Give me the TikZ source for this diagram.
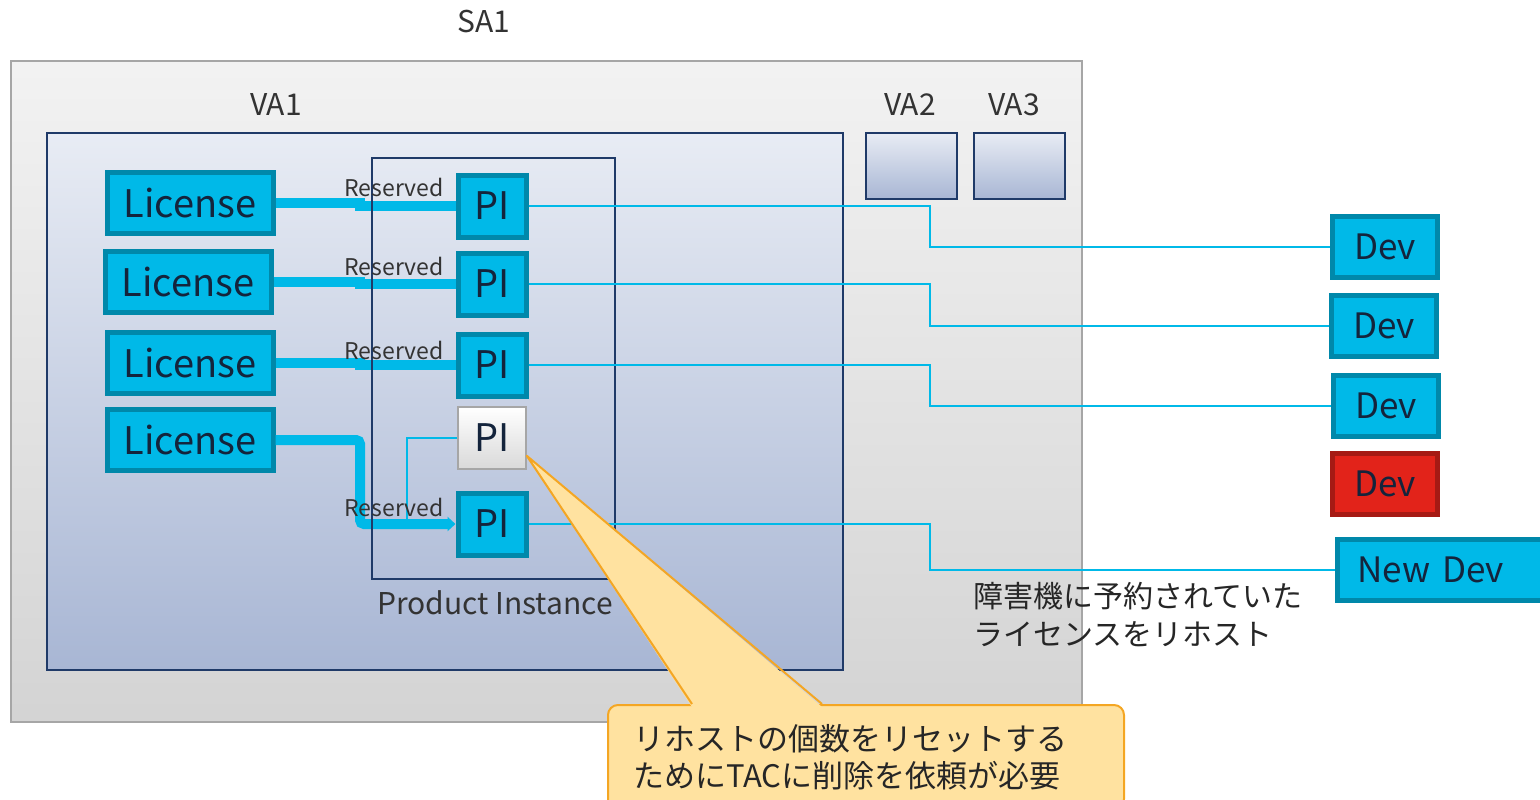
\documentclass[tikz,border=0pt]{standalone}
\usepackage{fontspec}
\setmainfont{Noto Sans CJK JP}
\usetikzlibrary{positioning,arrows.meta}

\definecolor{licblue}{HTML}{00B9E8}
\definecolor{licedge}{HTML}{0088AA}
\definecolor{navy}{HTML}{1F3A68}
\definecolor{inktext}{HTML}{14243C}
\definecolor{labeltext}{HTML}{333333}
\definecolor{vatop}{HTML}{E8ECF4}
\definecolor{vabottom}{HTML}{A8B6D4}
\definecolor{devred}{HTML}{E2231A}
\definecolor{devrededge}{HTML}{A61A14}
\definecolor{notefill}{HTML}{FFE2A0}
\definecolor{noteedge}{HTML}{F4A623}

\newcommand{\fsz}[1]{\fontsize{#1}{#1}\selectfont}

\tikzset{
  box/.style={draw=licedge, fill=licblue, line width=5pt, inner sep=0pt, text=inktext},
  lic/.style={box, minimum width=166pt, minimum height=61pt, font=\fsz{38}},
  pinst/.style={box, minimum width=68pt, minimum height=62pt, font=\fsz{38}},
  dev/.style={box, minimum width=105pt, minimum height=61pt, font=\fsz{35}},
  resv/.style={inner sep=0pt, text=labeltext, font=\fsz{23}},
  lbl/.style={inner sep=0pt, text=labeltext, font=\fsz{30}},
  hold/.style={draw=licblue, line width=10pt},
  wire/.style={draw=licblue, line width=2pt},
  vabox/.style={draw=navy, line width=2pt, top color=vatop, bottom color=vabottom},
}

\begin{document}
\begin{tikzpicture}[x=1pt, y=-1pt]
  \useasboundingbox (0,0) rectangle (1540,800);

  % account boxes
  \draw [draw=black!35, line width=2pt, top color=black!5, bottom color=black!17] (11,61) rectangle (1082,722);
  \node [lbl] at (484,22) {SA1};

  \draw [vabox] (47,133) rectangle (843,670);
  \draw [vabox] (866,133) rectangle (957,199);
  \draw [vabox] (974,133) rectangle (1065,199);
  \node [lbl] at (276,105) {VA1};
  \node [lbl] at (910,105) {VA2};
  \node [lbl] at (1014,105) {VA3};

  % licenses and product instances
  \node [lic] (lic1) at (190,203) {License};
  \node [lic] (lic2) at (188,282) {License};
  \node [lic] (lic3) at (190,363) {License};
  \node [lic] (lic4) at (190,440) {License};

  \node [pinst] (pi1) at (492,206) {PI};
  \node [pinst] (pi2) at (492,284) {PI};
  \node [pinst] (pi3) at (492,365) {PI};
  \node [pinst, draw=black!35, line width=1.5pt, top color=white, bottom color=black!15] (pi4) at (492,438) {PI};
  \node [pinst] (pi5) at (492,524) {PI};

  % devices
  \node [dev] (dev1) at (1385,247) {Dev};
  \node [dev] (dev2) at (1384,326) {Dev};
  \node [dev] (dev3) at (1386,406) {Dev};
  \node [dev, fill=devred, draw=devrededge] (dev4) at (1385,484) {Dev};
  \node [dev, anchor=west, text width=185pt, inner xsep=20pt, align=left] (newdev) at (1335,570) {New Dev};

  \coordinate (jog) at (360,0);
  \coordinate (bend) at (930,0);
  \coordinate (tap) at (407,519);

  % reservations
  \draw [hold] (lic1.east) -- (lic1.east -| jog) |- (pi1.west);
  \draw [hold] (lic2.east) -- (lic2.east -| jog) |- (pi2.west);
  \draw [hold] (lic3.east) -- (lic3.east -| jog) |- (pi3.west);
  \draw [hold, rounded corners=4pt, -{Triangle[length=8pt, width=14pt]}] (lic4.east) -- (lic4.east -| jog) |- (pi5.west);
  \draw [wire] (pi4.west) -| (tap);

  \draw [navy, line width=2pt] (372,158) rectangle (615,579);
  \node [lbl] at (495,603) {Product Instance};

  \node [resv] at (394,187) {Reserved};
  \node [resv] at (394,266) {Reserved};
  \node [resv] at (394,350) {Reserved};
  \node [resv] at (394,507) {Reserved};

  % registrations
  \draw [wire] (pi1.east) -- (pi1.east -| bend) |- (dev1.west);
  \draw [wire] (pi2.east) -- (pi2.east -| bend) |- (dev2.west);
  \draw [wire] (pi3.east) -- (pi3.east -| bend) |- (dev3.west);
  \draw [wire] (pi5.east) -- (pi5.east -| bend) |- (newdev.west);

  \node [lbl, anchor=west, align=left, text=black!85] (hint) at (973,615) {障害機に予約されていた\\[8pt]ライセンスをリホスト};

  % callout
  \node [draw=noteedge, line width=2pt, fill=notefill, rounded corners=10pt,
         minimum width=516pt, minimum height=104pt, text width=466pt, inner xsep=25pt, align=left,
         font=\fsz{31}, text=black!85] (note) at (866,757) {リホストの個数をリセットする\\[6pt]ためにTACに削除を依頼が必要};
  \path (note.north west) ++(85,0) coordinate (nb1) ++(130,0) coordinate (nb2);
  \fill [notefill] ([yshift=-3pt]nb1) -- ([yshift=14pt]pi4.south east) -- ([yshift=-3pt]nb2) -- cycle;
  \draw [noteedge, line width=2pt, line join=round] (nb1) -- ([yshift=14pt]pi4.south east) -- (nb2);
\end{tikzpicture}
\end{document}
